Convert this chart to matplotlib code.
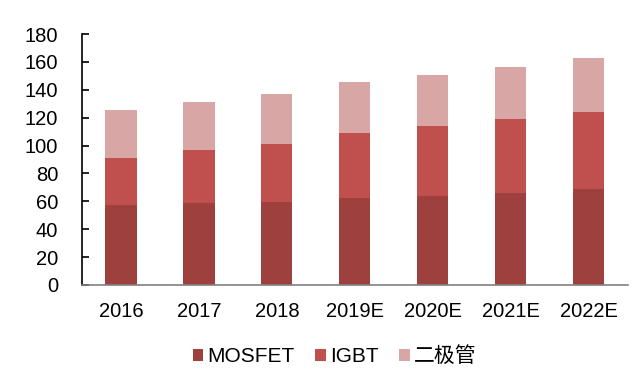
import matplotlib
matplotlib.use('Agg')
import matplotlib.pyplot as plt
import numpy as np

plt.rcParams['font.family'] = ['Liberation Sans', 'Noto Sans CJK SC', 'DejaVu Sans']

# Data
years = ['2016', '2017', '2018', '2019E', '2020E', '2021E', '2022E']
mosfet = [57.2, 58.6, 59.3, 62.6, 64.0, 66.2, 68.9]
igbt = [34.1, 38.2, 42.1, 46.2, 49.8, 52.6, 55.2]
diode = [34.2, 34.7, 35.6, 36.6, 36.8, 37.4, 38.7]

fig = plt.figure(figsize=(6.4, 3.83), dpi=100)
ax = fig.add_axes([0.128, 0.256, 0.853, 0.655])

x = np.arange(len(years))
w = 0.4
ax.bar(x, mosfet, w, color='#9E403D', label='MOSFET')
ax.bar(x, igbt, w, bottom=mosfet, color='#C0504D', label='IGBT')
ax.bar(x, diode, w, bottom=np.add(mosfet, igbt), color='#D9A6A6', label='二极管')

ax.set_xlim(-0.5, 6.5)
ax.set_ylim(0, 180)
ax.set_yticks(range(0, 181, 20))
ax.set_xticks(x)
ax.set_xticklabels(years)

for s in ['top', 'right']:
    ax.spines[s].set_visible(False)
ax.spines['left'].set_color('black')
ax.spines['left'].set_linewidth(1.2)
ax.spines['bottom'].set_color('#808080')
ax.spines['bottom'].set_linewidth(1.2)
ax.tick_params(axis='y', direction='in', length=5, width=1.2, labelsize=14.5, pad=17)
ax.tick_params(axis='x', length=0, labelsize=14.5, pad=12)

ax.legend(loc='upper center', bbox_to_anchor=(0.463, -0.17), ncol=3, frameon=False,
          fontsize=15, handlelength=0.5, handleheight=0.5, handletextpad=0.2,
          columnspacing=1.0)

fig.savefig('out.png', dpi=100)
